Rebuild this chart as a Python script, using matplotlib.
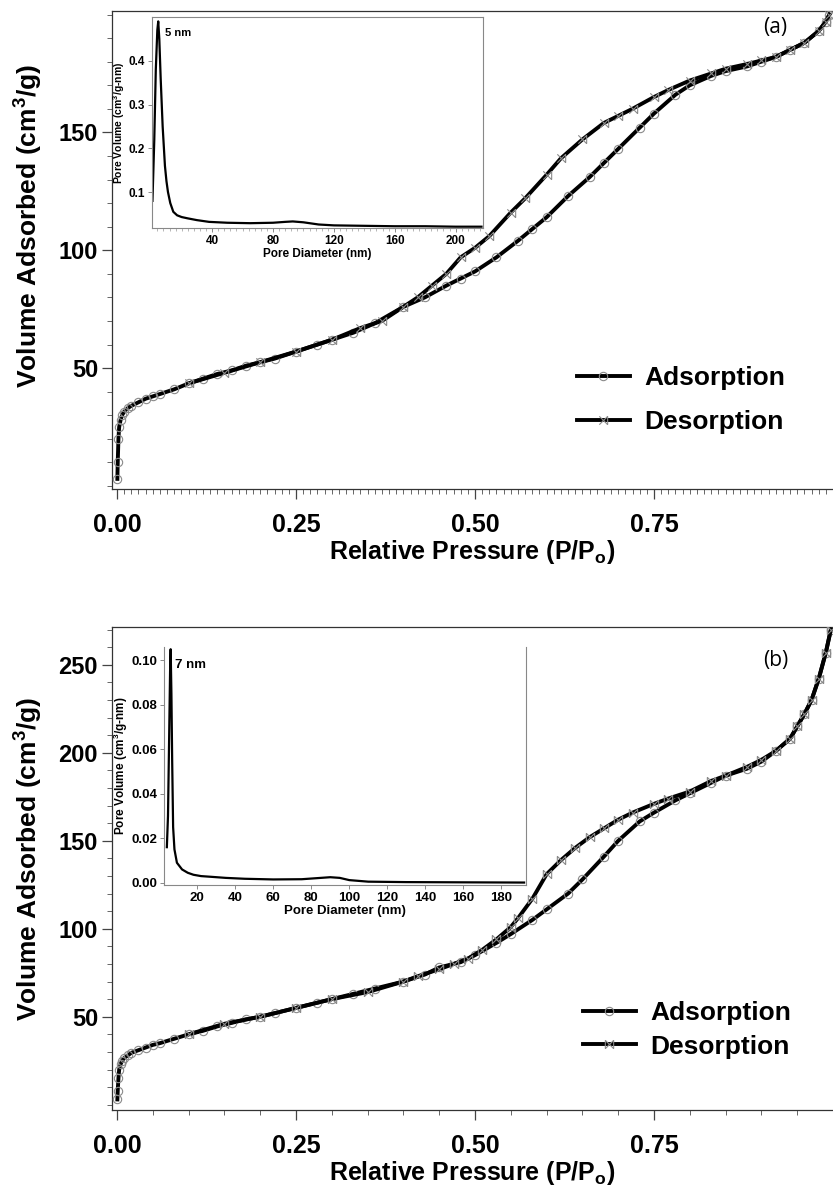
import matplotlib
matplotlib.use("Agg")
import matplotlib.pyplot as plt
from matplotlib.path import Path
from matplotlib.ticker import MultipleLocator, FixedLocator

plt.rcParams['font.family'] = ['Liberation Sans', 'DejaVu Sans']
plt.rcParams['font.weight'] = 'bold'
plt.rcParams['axes.labelweight'] = 'bold'
plt.rcParams['mathtext.fontset'] = 'custom'
plt.rcParams['mathtext.rm'] = 'Liberation Sans:bold'
plt.rcParams['mathtext.it'] = 'Liberation Sans:bold'
plt.rcParams['mathtext.bf'] = 'Liberation Sans:bold'

# ---- panel (a): isotherm ----
a_ads_p = [0.0005, 0.001, 0.002, 0.003, 0.005, 0.007, 0.01, 0.015, 0.02, 0.03, 0.04, 0.05,
           0.06, 0.08, 0.10, 0.12, 0.14, 0.16, 0.18, 0.20, 0.22, 0.25, 0.28, 0.30, 0.33,
           0.36, 0.40, 0.43, 0.46, 0.48, 0.50, 0.53, 0.56, 0.58, 0.60, 0.63, 0.66, 0.68,
           0.70, 0.73, 0.75, 0.78, 0.80, 0.83, 0.85, 0.88, 0.90, 0.92, 0.94, 0.96, 0.98,
           0.99, 0.995]
a_ads_v = [3, 10, 20, 25, 28, 30, 31.5, 33, 34, 35.5, 37, 38,
           39, 41, 43.5, 45.5, 47.5, 49, 51, 52.5, 54, 57, 60, 62, 65,
           69, 76, 80, 85, 88, 91, 97, 104, 109, 114, 123, 131, 137,
           143, 152, 158, 166, 170, 174, 176, 178, 180, 182, 185, 188, 193,
           197, 200]
a_des_p = [0.995, 0.99, 0.98, 0.96, 0.94, 0.92, 0.90, 0.88, 0.85, 0.83, 0.80, 0.77,
           0.75, 0.72, 0.70, 0.68, 0.65, 0.62, 0.60, 0.57, 0.55, 0.52, 0.50, 0.48,
           0.46, 0.44, 0.42, 0.40, 0.37, 0.34, 0.30, 0.25, 0.20, 0.15, 0.10]
a_des_v = [200, 197, 193, 188, 185, 182, 180.5, 179, 177, 175, 172, 168,
           165, 160, 157, 154, 147, 139, 132, 122, 116, 106, 101, 97,
           90, 85, 80, 76, 70, 67, 62, 57, 52.5, 48, 43.5]

# ---- panel (a): pore size distribution ----
a_psd_d = [0.8, 2, 3, 4, 4.6, 5.3, 6.2, 7.5, 9, 10, 11, 12.5, 14.5, 17, 20, 24, 30, 38,
           50, 65, 80, 88, 93, 100, 110, 120, 140, 160, 180, 200, 217]
a_psd_v = [0.08, 0.22, 0.38, 0.47, 0.49, 0.45, 0.36, 0.25, 0.16, 0.125, 0.10, 0.075,
           0.055, 0.047, 0.043, 0.040, 0.036, 0.032, 0.030, 0.029, 0.030, 0.032, 0.033,
           0.031, 0.026, 0.024, 0.023, 0.022, 0.022, 0.021, 0.021]

# ---- panel (b): isotherm ----
b_ads_p = [0.0005, 0.001, 0.002, 0.003, 0.005, 0.007, 0.01, 0.015, 0.02, 0.03, 0.04, 0.05,
           0.06, 0.08, 0.10, 0.12, 0.14, 0.16, 0.18, 0.20, 0.22, 0.25, 0.28, 0.30, 0.33,
           0.36, 0.40, 0.43, 0.45, 0.48, 0.50, 0.53, 0.55, 0.58, 0.60, 0.63, 0.65, 0.68,
           0.70, 0.73, 0.75, 0.78, 0.80, 0.83, 0.85, 0.88, 0.90, 0.92, 0.94, 0.95, 0.96,
           0.97, 0.98, 0.99, 0.997]
b_ads_v = [3, 8, 15, 20, 23, 25, 26.5, 28, 29.5, 31, 32.5, 34,
           35, 37.5, 40, 42, 44.5, 46.5, 48.5, 50, 52, 55, 58, 60, 63,
           66, 70, 74, 78, 81, 85, 92, 97, 105, 111, 120, 128, 141,
           150, 161, 166, 173, 177, 183, 187, 191, 195, 201, 208, 215, 222,
           230, 242, 257, 270]
b_des_p = [0.997, 0.99, 0.98, 0.97, 0.96, 0.95, 0.94, 0.92, 0.90, 0.88, 0.85, 0.83,
           0.80, 0.77, 0.75, 0.72, 0.70, 0.68, 0.66, 0.64, 0.62, 0.60, 0.58, 0.56,
           0.55, 0.53, 0.51, 0.49, 0.47, 0.45, 0.42, 0.40, 0.35, 0.30, 0.25, 0.20,
           0.15, 0.10]
b_des_v = [270, 257, 242, 230, 222, 215, 208, 201, 196, 192, 187, 184,
           178, 174, 171, 166, 162, 157, 152, 146, 139, 131, 117, 106,
           101, 94, 88, 83, 80, 77, 73, 70, 64, 60, 55, 50,
           46, 40]

# ---- panel (b): pore size distribution ----
b_psd_d = [4.0, 4.6, 5.2, 5.7, 6.0, 6.4, 6.8, 7.3, 8.0, 9.3, 12, 15, 18, 22, 27, 35, 45,
           60, 75, 85, 90, 95, 100, 110, 130, 160, 192]
b_psd_v = [0.016, 0.03, 0.065, 0.095, 0.105, 0.085, 0.055, 0.025, 0.015, 0.009, 0.006,
           0.0045, 0.0036, 0.003, 0.0027, 0.0022, 0.0018, 0.0015, 0.0016, 0.0022, 0.0025,
           0.0022, 0.0012, 0.0005, 0.0003, 0.0002, 0.0001]

# desorption marker: X closed by vertical bars
des_marker_a = Path([(-1, -1), (1, 1), (-1, 1), (1, -1), (1, -1), (1, 1)],
                    [Path.MOVETO, Path.LINETO, Path.MOVETO, Path.LINETO, Path.MOVETO, Path.LINETO])
des_marker_b = Path([(-1, -1), (1, 1), (-1, 1), (1, -1), (1, -1), (1, 1), (-1, -1), (-1, 1)],
                    [Path.MOVETO, Path.LINETO, Path.MOVETO, Path.LINETO,
                     Path.MOVETO, Path.LINETO, Path.MOVETO, Path.LINETO])

W, H = 833, 1185
fig = plt.figure(figsize=(W / 100, H / 100), dpi=100)


def fx(px):
    return px / W


def fy(py):
    return 1 - py / H


def main_axes(top, bottom, left=112, right=833):
    return fig.add_axes([fx(left), fy(bottom), fx(right - left), (bottom - top) / H])


def style_main(ax, ylim, ymaj, xminor, label, label_y, des_marker, leg_xy, leg_space):
    ax.plot(ads_p, ads_v, color='black', lw=2.8, marker='o', ms=6, mfc='none',
            mec='#8a8a8a', mew=0.8, label='Adsorption', zorder=3)
    ax.plot(des_p, des_v, color='black', lw=2.8, marker=des_marker, ms=6,
            mec='#8a8a8a', mew=0.8, label='Desorption', zorder=3)
    ax.set_xlim(-0.007, 1.0)
    ax.set_ylim(*ylim)
    ax.spines['right'].set_visible(False)
    for s in ax.spines.values():
        s.set_linewidth(0.9)
        s.set_color('#333333')
    ax.xaxis.set_major_locator(FixedLocator([0.0, 0.25, 0.5, 0.75]))
    ax.xaxis.set_minor_locator(MultipleLocator(xminor))
    ax.yaxis.set_major_locator(FixedLocator(ymaj))
    ax.yaxis.set_minor_locator(MultipleLocator(10))
    ax.tick_params(which='major', direction='out', length=7, width=0.9, color='#444444')
    ax.tick_params(which='minor', direction='out', length=3.5, width=0.7, color='#666666')
    ax.tick_params(axis='x', labelsize=18, pad=10)
    ax.tick_params(axis='y', labelsize=17, pad=3)
    ax.set_xticklabels(['0.00', '0.25', '0.50', '0.75'])
    ax.set_xlabel('Relative Pressure (P/P$_\\mathrm{o}$)', fontsize=18, labelpad=1)
    ax.set_ylabel('Volume Adsorbed (cm$^3$/g)', fontsize=19, labelpad=2)
    ax.yaxis.set_label_coords(-0.093, 0.55 if label == '(a)' else 0.52)
    ax.text(0.92, label_y, label, transform=ax.transAxes,
            fontsize=15, fontweight='normal', family=['Open Sans', 'DejaVu Sans'],
            ha='center', va='center')
    ax.legend(loc='center left', bbox_to_anchor=(fx(leg_xy[0]), fy(leg_xy[1])),
              bbox_transform=fig.transFigure, frameon=False, fontsize=19,
              handlelength=2.0, handletextpad=0.55, labelspacing=leg_space,
              borderpad=0, borderaxespad=0, numpoints=1)


def style_inset(ax, xlim, ylim, xmaj, xminor, yticks, yfmt, xticks_from, fs, yfs):
    ax.set_xlim(*xlim)
    ax.set_ylim(*ylim)
    for s in ax.spines.values():
        s.set_linewidth(0.8)
        s.set_color('#888888')
    ax.xaxis.set_major_locator(MultipleLocator(xmaj))
    ax.xaxis.set_minor_locator(MultipleLocator(xminor))
    ax.set_xticks([t for t in ax.get_xticks() if xticks_from <= t <= xlim[1]])
    ax.set_yticks(yticks)
    ax.yaxis.set_major_formatter(plt.FormatStrFormatter(yfmt))
    ax.tick_params(which='major', direction='out', length=3, width=0.6, color='#777777',
                   labelsize=fs, pad=2)
    ax.tick_params(which='minor', direction='out', length=1.8, width=0.5, color='#999999')
    ax.set_xlabel('Pore Diameter (nm)', fontsize=fs, labelpad=1)
    ax.set_ylabel('Pore Volume (cm$^3$/g-nm)', fontsize=yfs, labelpad=1)


# ---------------- panel (a) ----------------
ads_p, ads_v, des_p, des_v = a_ads_p, a_ads_v, a_des_p, a_des_v
ax_a = main_axes(11, 489)
style_main(ax_a, (-1.3, 201.5), [50, 100, 150], 0.01, '(a)', 0.965, des_marker_a,
           (577, 400), 0.75)

ins_a = fig.add_axes([fx(152), fy(228), fx(331), 211 / H])
ins_a.plot(a_psd_d, a_psd_v, color='black', lw=1.6)
style_inset(ins_a, (0.5, 218), (0.018, 0.5), 40, 4, [0.1, 0.2, 0.3, 0.4], '%.1f', 40,
            8.5, 7.5)
ins_a.text(9, 0.464, '5 nm', fontsize=8, va='center', ha='left')

# ---------------- panel (b) ----------------
ads_p, ads_v, des_p, des_v = b_ads_p, b_ads_v, b_des_p, b_des_v
ax_b = main_axes(627, 1110)
style_main(ax_b, (-3, 271.5), [50, 100, 150, 200, 250], 0.05, '(b)', 0.93, des_marker_b,
           (583, 1030), 0.35)

ins_b = fig.add_axes([fx(164), fy(885), fx(362), 238 / H])
ins_b.plot(b_psd_d, b_psd_v, color='black', lw=1.6)
style_inset(ins_b, (2.5, 193), (-0.001, 0.106), 20, 20,
            [0.0, 0.02, 0.04, 0.06, 0.08, 0.10], '%.2f', 20, 9.5, 8.5)
ins_b.spines['top'].set_visible(False)
ins_b.text(8.4, 0.098, '7 nm', fontsize=9.5, va='center', ha='left')

fig.savefig('out.png', dpi=100)
